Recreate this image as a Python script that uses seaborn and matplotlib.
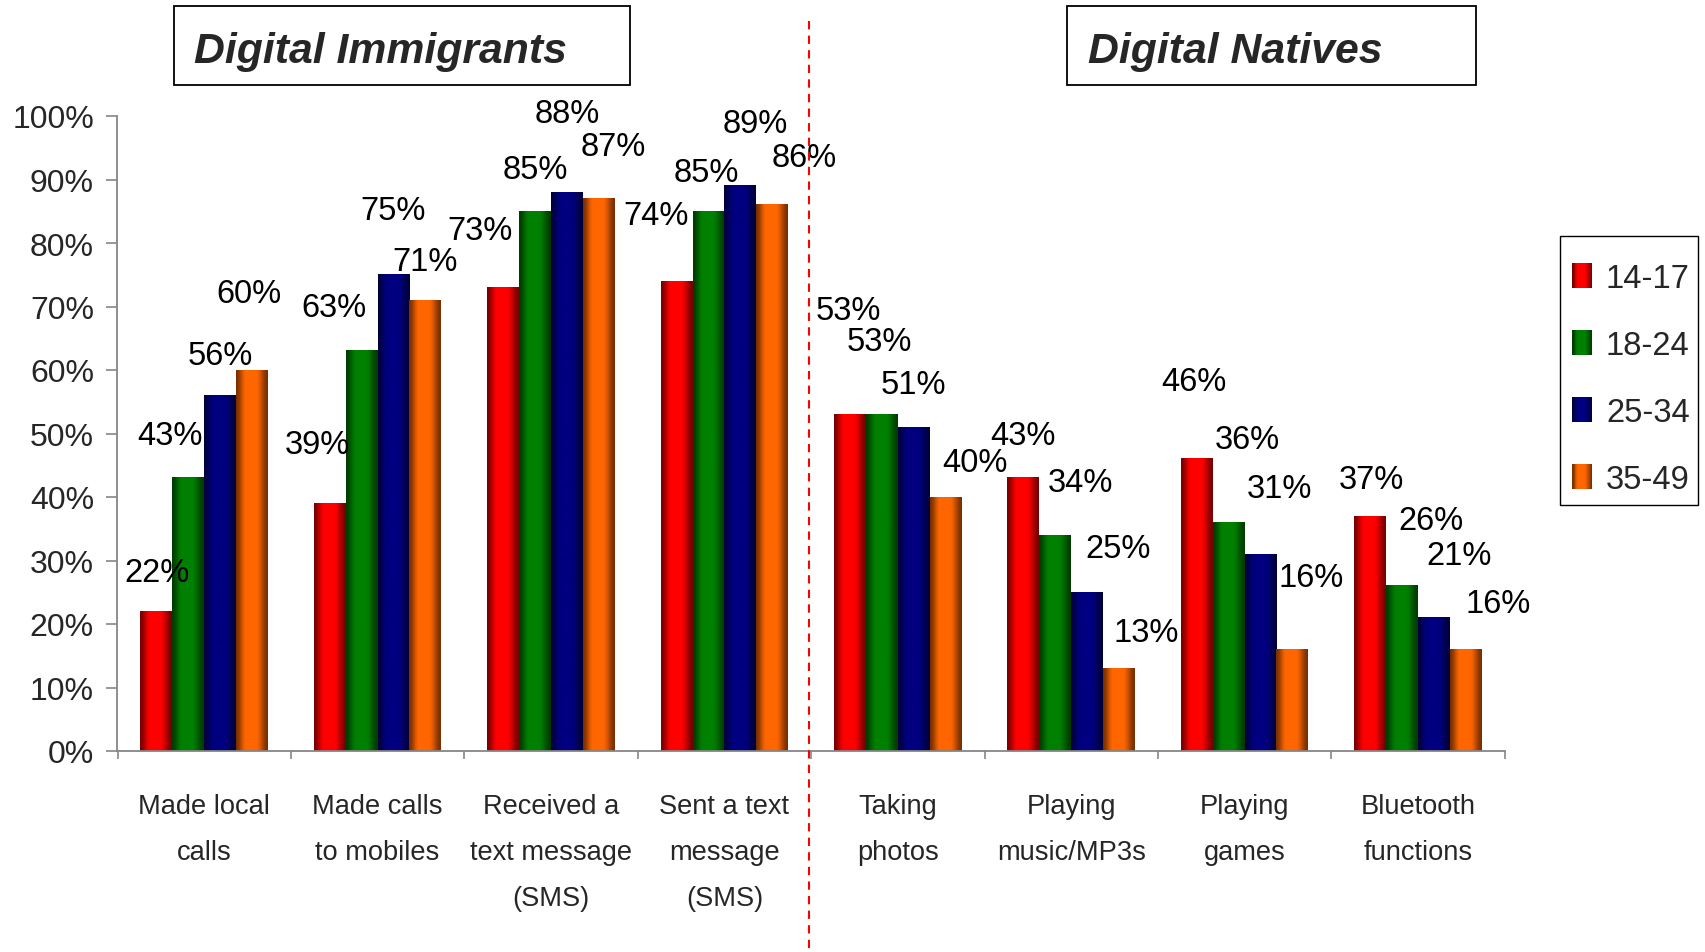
import numpy as np
import pandas as pd
import matplotlib
matplotlib.use("Agg")
import matplotlib.pyplot as plt
import seaborn as sns
from matplotlib.patches import Rectangle
from matplotlib.lines import Line2D
from matplotlib.legend_handler import HandlerBase
from matplotlib import font_manager, transforms
from matplotlib.colors import to_rgb

# ---- data -------------------------------------------------------------
activities = [
    "Made local\ncalls",
    "Made calls\nto mobiles",
    "Received a\ntext message\n(SMS)",
    "Sent a text\nmessage\n(SMS)",
    "Taking\nphotos",
    "Playing\nmusic/MP3s",
    "Playing\ngames",
    "Bluetooth\nfunctions",
]
age_groups = ["14-17", "18-24", "25-34", "35-49"]
pct_14_17 = [22, 39, 73, 74, 53, 43, 46, 37]
pct_18_24 = [43, 63, 85, 85, 53, 34, 36, 26]
pct_25_34 = [56, 75, 88, 89, 51, 25, 31, 21]
pct_35_49 = [60, 71, 87, 86, 40, 13, 16, 16]
y_ticks = [0, 10, 20, 30, 40, 50, 60, 70, 80, 90, 100]
section_titles = ["Digital Immigrants", "Digital Natives"]

# ---- style ------------------------------------------------------------
colors = ["#FF0000", "#008000", "#000080", "#FF6600"]

# value-label offsets (pixels) from the top centre of each bar,
# one row per activity, one column per age group
label_dx = [
    [1, -18, 0, -3],
    [-12, -28, 0, 0],
    [-23, 0, 0, 14],
    [-21, -2, 15, 32],
    [-2, -3, 0, 29],
    [0, 25, 31, 27],
    [-3, 19, 19, 19],
    [1, 29, 25, 32],
]
label_dy = [
    [44, 47, 45, 81],
    [64, 48, 69, 44],
    [62, 47, 84, 57],
    [71, 44, 67, 52],
    [109, 78, 48, 39],
    [47, 58, 49, 41],
    [82, 88, 71, 77],
    [42, 70, 67, 51],
]
LABEL_SHIFT = -5

sns.set_style("white")
available = {f.name for f in font_manager.fontManager.ttflist}
if "Liberation Sans Narrow" in available:
    FONT, SCALE = "Liberation Sans Narrow", 1.19
else:
    FONT, SCALE = "Liberation Sans", 1.0
plt.rcParams["font.family"] = [FONT, "DejaVu Sans"]

W, H = 1706, 953
fig = plt.figure(figsize=(W / 100, H / 100), dpi=100)
fig.patch.set_facecolor("white")
ax = fig.add_axes([117.5 / W, 1 - 752 / H, (1504.7 - 117.5) / W, (752 - 117) / H])

records = []
for age, vals in zip(age_groups, [pct_14_17, pct_18_24, pct_25_34, pct_35_49]):
    for act, v in zip(activities, vals):
        records.append((act, age, v))
df = pd.DataFrame(records, columns=["activity", "age", "pct"])

sns.barplot(
    data=df, x="activity", y="pct", hue="age",
    order=activities, hue_order=age_groups, palette=colors,
    width=0.735, saturation=1, errorbar=None, legend=False, ax=ax,
)


def shade_profile(n):
    # dark edges, bright band slightly left of centre
    t = (np.arange(n) + 0.5) / n
    s = np.clip(np.minimum(t / 0.32, (1 - t) / 0.38), 0, 1)
    s = s * s * (3 - 2 * s)
    return 0.47 + 0.53 * s


def gradient_row(color, n=96):
    rgb = np.array(to_rgb(color))
    f = shade_profile(n)
    return (f[:, None] * rgb[None, :])[None, :, :]


# cylinder-style shading on every bar, plus value labels
for hi, cont in enumerate(ax.containers):
    img = gradient_row(colors[hi])
    for bj, bar in enumerate(cont):
        x0, w, h = bar.get_x(), bar.get_width(), bar.get_height()
        bar.set_facecolor("none")
        bar.set_edgecolor("none")
        ax.imshow(img, extent=[x0, x0 + w, 0, h], aspect="auto",
                  interpolation="bilinear", zorder=3)
        ax.annotate(f"{int(round(h))}%", xy=(x0 + w / 2, h),
                    xytext=(label_dx[bj][hi], label_dy[bj][hi] + LABEL_SHIFT),
                    textcoords="offset pixels", ha="center", va="center",
                    fontsize=23.5 * SCALE, color="black", zorder=5)

ax.set_xlim(-0.5, len(activities) - 0.5)
ax.set_ylim(0, 100)
ax.set_aspect("auto")

# axes
for s in ["top", "right"]:
    ax.spines[s].set_visible(False)
for s in ["left", "bottom"]:
    ax.spines[s].set_color("#868686")
    ax.spines[s].set_linewidth(1.3)
    ax.spines[s].set_zorder(4)
ax.set_xlabel("")
ax.set_ylabel("")
ax.set_yticks(y_ticks)
ax.set_yticklabels([f"{v}%" for v in y_ticks], fontsize=23 * SCALE)
ax.tick_params(axis="y", direction="out", length=8, width=1.2,
               color="#868686", pad=9, left=True)
ax.set_xticks(range(len(activities)))
ax.set_xticklabels(activities, fontsize=19.6 * SCALE, linespacing=2.0)
ax.tick_params(axis="x", which="major", length=0, pad=30)
ax.set_xticks(np.arange(-0.5, len(activities)), minor=True)
ax.tick_params(axis="x", which="minor", direction="out", length=6,
               width=1.2, color="#868686", bottom=True)
ax.grid(False)

# section divider
blend = transforms.blended_transform_factory(ax.transData, fig.transFigure)
fig.add_artist(Line2D([3.49, 3.49], [1 - 22 / H, 0], transform=blend,
                      color="red", lw=1.5, linestyle=(0, (4, 3)),
                      clip_on=False))

# section titles in boxes
for (bx0, bx1, tx), title in zip([(174, 630, 194), (1067, 1476, 1088)],
                                 section_titles):
    fig.add_artist(Rectangle((bx0 / W, 1 - 86 / H), (bx1 - bx0) / W, 79 / H,
                             transform=fig.transFigure, fill=False,
                             ec="black", lw=1.3))
    fig.text(tx / W, 1 - 52 / H, title, ha="left", va="center",
             fontsize=30.8 * SCALE, fontweight="bold", style="italic")


# legend with shaded swatches
class ShadedSwatch(HandlerBase):
    def __init__(self, color, n=24):
        super().__init__()
        self.color = color
        self.n = n

    def create_artists(self, legend, orig_handle, xdescent, ydescent,
                       width, height, fontsize, trans):
        rgb = np.array(to_rgb(self.color))
        f = shade_profile(self.n)
        step = width / self.n
        arts = []
        for i in range(self.n):
            arts.append(Rectangle((-xdescent + i * step, -ydescent),
                                  step * 1.05, height,
                                  facecolor=tuple(rgb * f[i]),
                                  edgecolor="none", transform=trans))
        return arts


# legend frame drawn separately so its box can sit exactly where wanted
fig.add_artist(Rectangle((1560 / W, 1 - 506 / H), 138 / W, 269 / H,
                         transform=fig.transFigure, fill=True, fc="white",
                         ec="black", lw=1.0, zorder=4))
proxies = [Rectangle((0, 0), 1, 1, fc=c) for c in colors]
leg = fig.legend(
    proxies, age_groups, loc="upper left",
    bbox_to_anchor=(1572 / W, 1 - 264 / H), bbox_transform=fig.transFigure,
    handler_map={p: ShadedSwatch(c) for p, c in zip(proxies, colors)},
    frameon=False, fontsize=23.5 * SCALE, handlelength=0.62,
    handleheight=0.82, handletextpad=0.42, labelspacing=1.1,
    borderpad=0, borderaxespad=0,
)
leg.set_zorder(5)

fig.savefig("out.png", dpi=100, facecolor="white")
